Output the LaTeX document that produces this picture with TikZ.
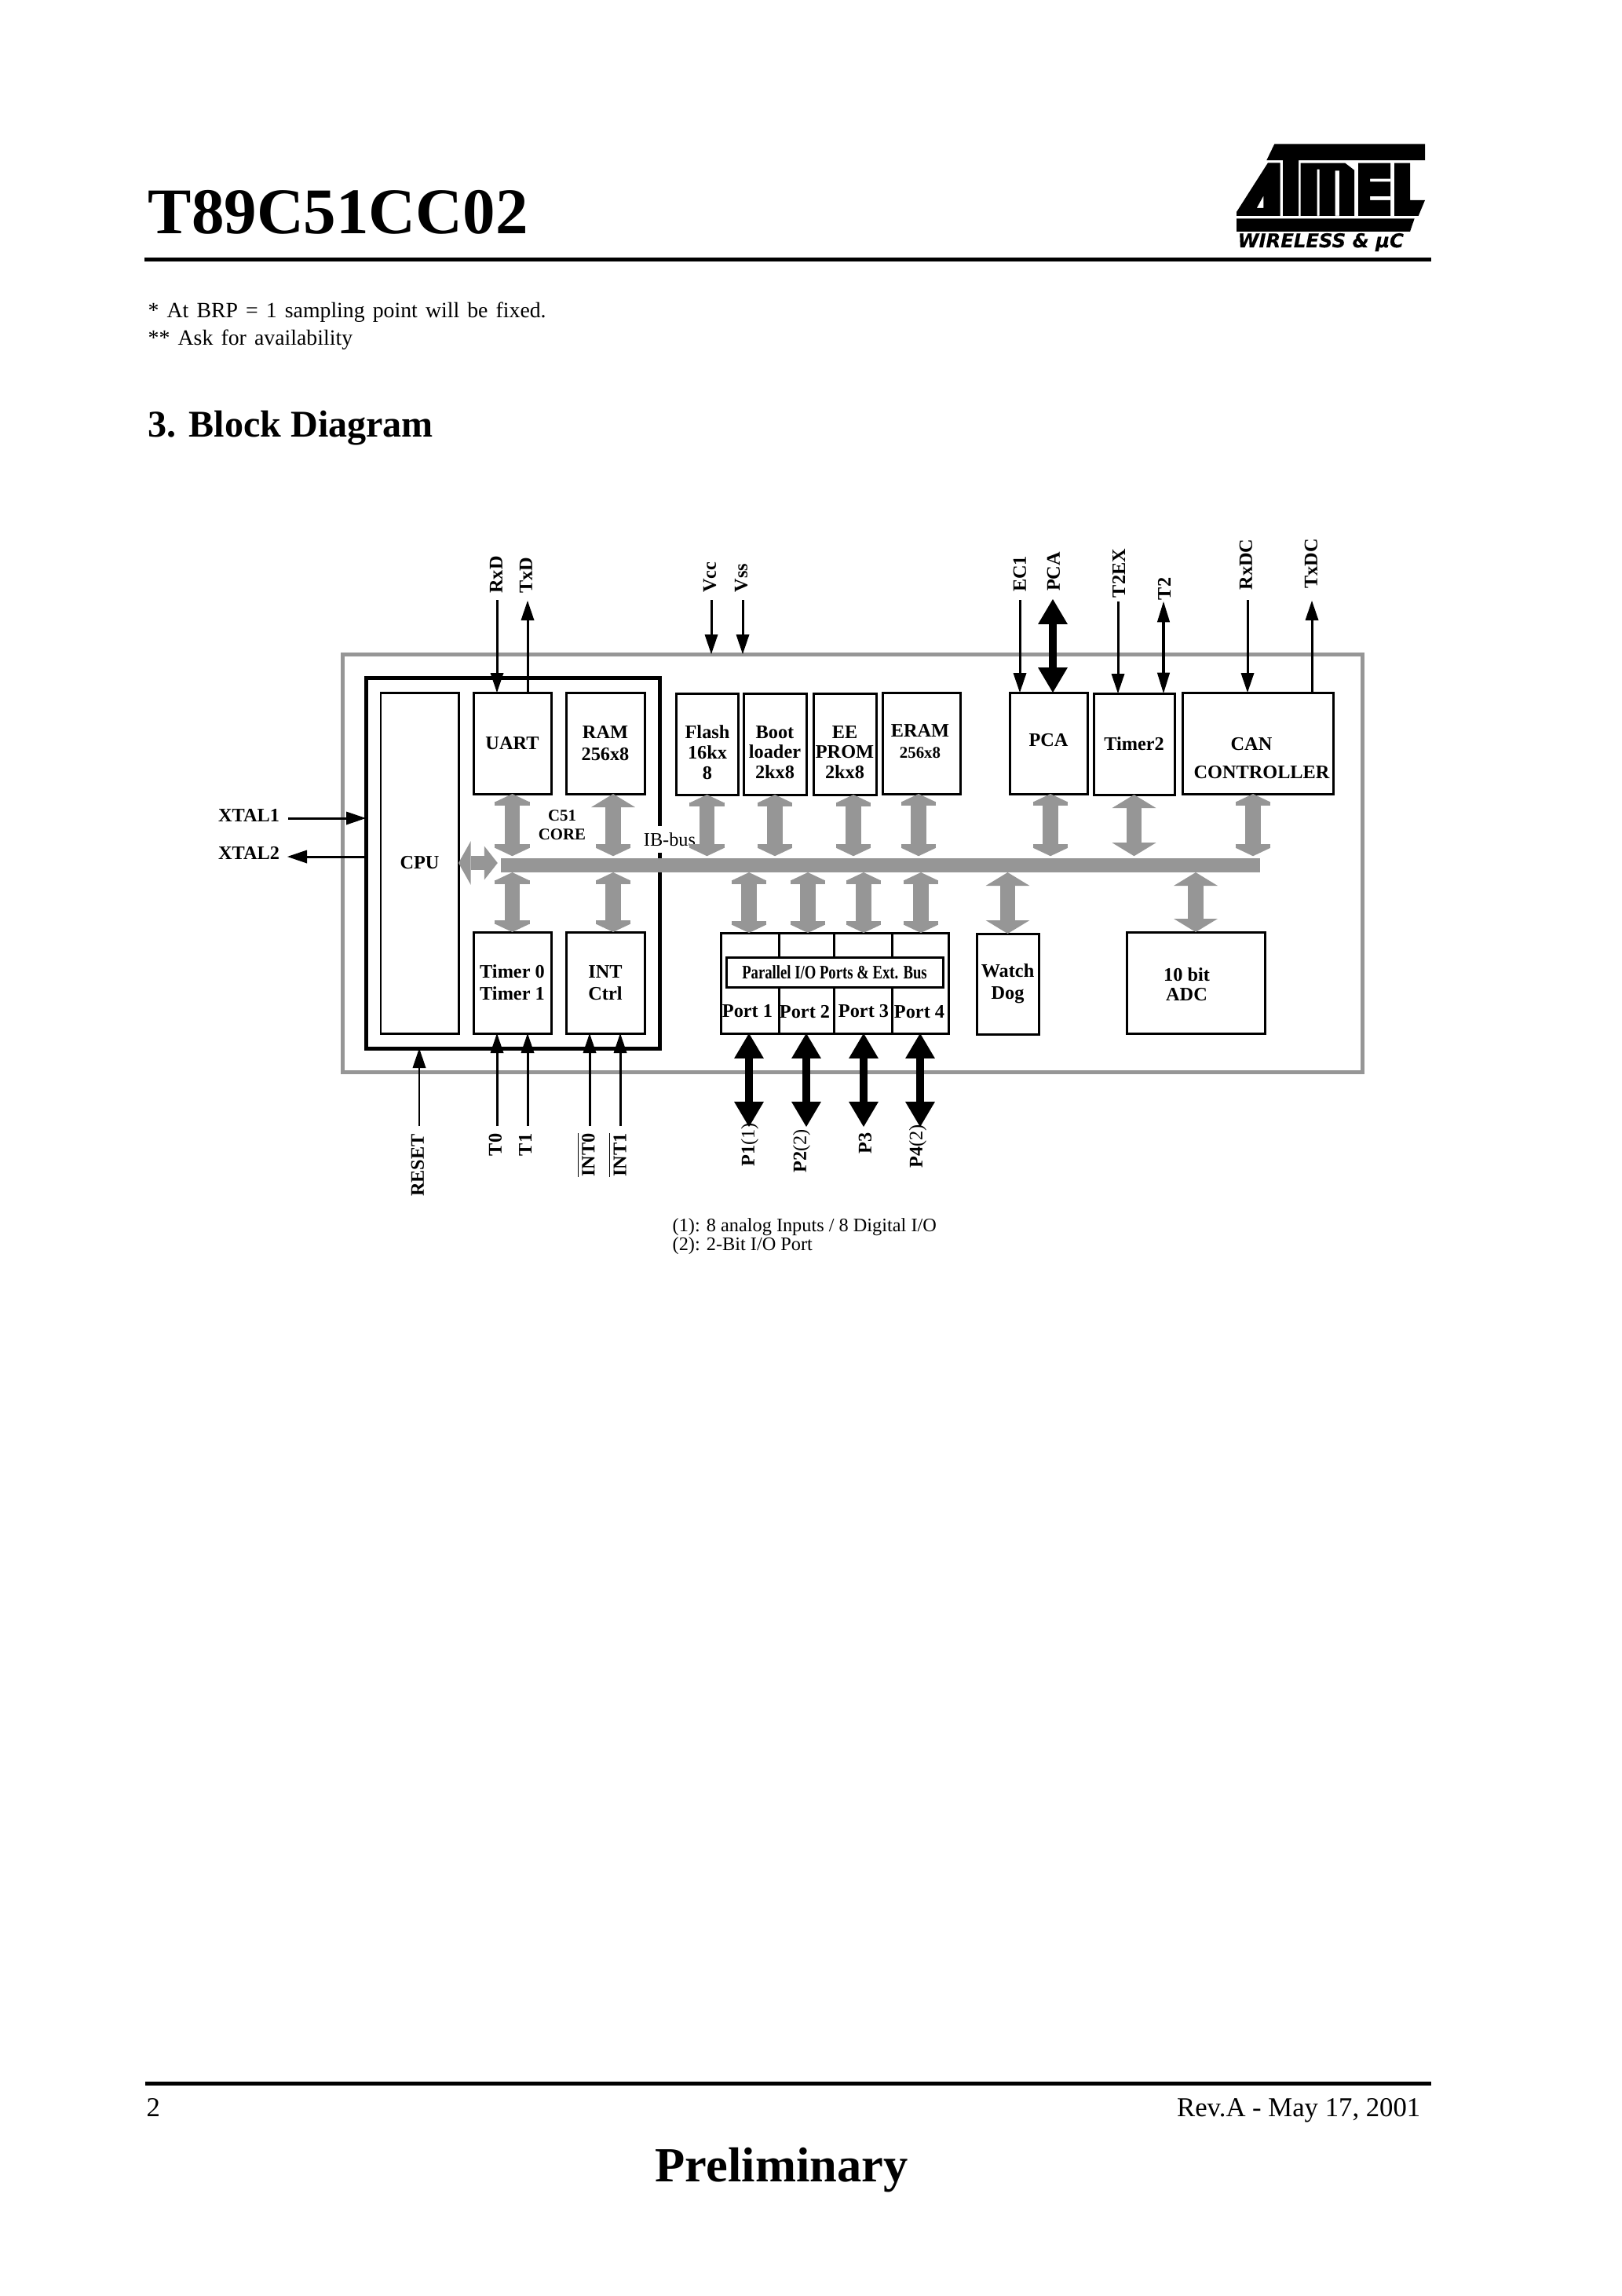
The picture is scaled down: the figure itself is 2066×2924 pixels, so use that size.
\documentclass[tikz,border=0pt]{standalone}
\usepackage{fontspec}
\setmainfont{Liberation Serif}
\newfontfamily\logofont[BoldItalicFeatures={FakeBold=0.4}]{DejaVu Sans}
\usetikzlibrary{arrows.meta}
\def\px{0.288pt}

\begin{document}
\begin{tikzpicture}[x=0.288pt,y=-0.288pt]
\tikzstyle{blk}=[draw,line width=0.86pt,inner sep=0pt,outer sep=0pt,align=center,font=\fontsize{7}{8}\selectfont\bfseries]
\tikzstyle{lbl}=[inner sep=0pt,align=center,font=\fontsize{7}{8}\selectfont\bfseries]
\tikzstyle{mem}=[lbl,font=\fontsize{7}{7.4}\selectfont\bfseries]
\tikzstyle{pin}=[lbl,rotate=90]
\tikzstyle{txt}=[inner sep=0pt,anchor=base west]
\tikzstyle{sig}=[line width=0.86pt,-{Triangle[length=7.2pt,width=4.9pt,line width=0pt]}]
\tikzstyle{sigb}=[line width=1.15pt,{Triangle[length=7.6pt,width=4.7pt,line width=0pt]}-{Triangle[length=7.6pt,width=4.7pt,line width=0pt]}]
\tikzstyle{fat}=[line width=2.9pt,{Triangle[length=9.2pt,width=10.9pt,line width=0pt]}-{Triangle[length=9.2pt,width=10.9pt,line width=0pt]}]
\tikzstyle{gbus}=[busgrey,line width=5.5pt,{Triangle[length=3pt,width=12.7pt,line width=0pt]Rectangle[length=1.3pt,width=12.7pt,line width=0pt]}-{Rectangle[length=1.3pt,width=12.7pt,line width=0pt]Triangle[length=3pt,width=12.7pt,line width=0pt]}]
\tikzstyle{gwide}=[busgrey,line width=5.5pt,{Triangle[length=4.9pt,width=16.1pt,line width=0pt]}-{Triangle[length=4.9pt,width=16.1pt,line width=0pt]}]
\tikzstyle{gmix}=[busgrey,line width=5.5pt,{Triangle[length=4.9pt,width=16.1pt,line width=0pt]}-{Rectangle[length=1.3pt,width=12.7pt,line width=0pt]Triangle[length=3pt,width=12.7pt,line width=0pt]}]
\tikzstyle{gcpu}=[busgrey,line width=5.2pt,{Triangle[length=4.5pt,width=16pt,line width=0pt]}-{Triangle[length=4.9pt,width=12.4pt,line width=0pt]}]
\definecolor{busgrey}{gray}{0.59}

\useasboundingbox (0,0) rectangle (2066,2924);
\fill[white] (0,0) rectangle (2066,2924);

\node[txt,font=\fontsize{23.9}{24}\selectfont\bfseries] (title) at (188,297) {T89C51CC02};
\fill (184,328) rectangle (1823,333);
\node[txt,font=\fontsize{8}{8}\selectfont] (noteone) at (188,404.5) {\makebox[146pt][s]{* At BRP = 1 sampling point will be fixed.}};
\node[txt,font=\fontsize{8}{8}\selectfont] (notetwo) at (188,439.5) {\makebox[75pt][s]{** Ask for availability}};
\node[txt,font=\fontsize{13.85}{14}\selectfont\bfseries] (heading) at (188,556) {3. Block Diagram};

\begin{scope}[shift={(1560,170)},x=0.096pt,y=-0.096pt]
\fill (190,40) -- (765,40) -- (765,102) -- (282,102) -- (282,315) -- (222,315) -- (222,102) -- (160,102) -- cycle;
\fill[even odd rule] (165,112) -- (212,112) -- (212,315) -- (45,315) -- (45,300) -- cycle (148,238) -- (148,285) -- (122,285) -- cycle;
\fill[even odd rule] (290,113) -- (460,113) -- (495,140) -- (495,315) -- (290,315) -- cycle (353,137) rectangle (362,315) (422,142) rectangle (438,315);
\fill[even odd rule] (510,113) rectangle (633,315) (555,173) rectangle (633,184) (555,240) rectangle (633,255);
\fill (648,113) -- (708,113) -- (708,255) -- (765,255) -- (740,315) -- (648,315) -- cycle;
\fill (45,325) -- (725,325) -- (708,375) -- (45,375) -- cycle;
\node[txt,font=\logofont\fontsize{7}{7}\selectfont\bfseries\itshape] (wireless) at (48,435) {WIRELESS \& µC};
\end{scope}

\node[draw=busgrey,line width=1.44pt,inner sep=0pt,outer sep=0pt,minimum width=1299*\px,minimum height=532*\px] (chip) at (1085.5,1099) {};
\node[draw,line width=1.44pt,inner sep=0pt,outer sep=0pt,minimum width=374*\px,minimum height=472*\px] (core) at (653,1099) {};
\node[fill=white,inner sep=0pt,minimum height=34*\px,font=\fontsize{7}{8}\selectfont] (ibbus) at (853,1069) {IB-bus};
\node[fill=busgrey,inner sep=0pt,outer sep=0pt,minimum width=967*\px,minimum height=18*\px] (bus) at (1121.5,1102) {};

\node[blk,minimum width=99*\px,minimum height=434*\px] (cpu) at (534.5,1099) {CPU};
\node[blk,minimum width=99*\px,minimum height=129*\px] (uart) at (652.5,946.5) {UART};
\node[blk,minimum width=100*\px,minimum height=129*\px] (ram) at (771,946.5) {RAM\\256x8};
\node[blk,minimum width=99*\px,minimum height=129*\px] (timer) at (652.5,1251.5) {Timer 0\\Timer 1};
\node[blk,minimum width=100*\px,minimum height=129*\px] (intc) at (771,1251.5) {INT\\Ctrl};
\node[lbl,font=\fontsize{6}{7}\selectfont\bfseries] (core51) at (716,1051) {C51\\CORE};

\node[blk,minimum width=79*\px,minimum height=129*\px] (flash) at (900.5,947.5) {};
\node[mem] (flashtxt) at (901,958) {Flash\\16kx\\8};
\node[blk,minimum width=80*\px,minimum height=129*\px] (boot) at (987,947.5) {};
\node[mem] (boottxt) at (987,958) {Boot\\loader\\2kx8};
\node[blk,minimum width=80*\px,minimum height=129*\px] (eeprom) at (1076,947.5) {};
\node[mem] (eepromtxt) at (1076,958) {EE\\PROM\\2kx8};
\node[blk,minimum width=99*\px,minimum height=129*\px] (eram) at (1173.5,946.5) {};
\node[lbl] (eramtxt) at (1172,930) {ERAM};
\node[lbl,font=\fontsize{6}{7}\selectfont\bfseries] (eramsize) at (1172,959) {256x8};
\node[blk,minimum width=99*\px,minimum height=129*\px] (pca) at (1335.5,946.5) {};
\node[lbl] (pcatxt) at (1335.5,943) {PCA};
\node[blk,minimum width=103*\px,minimum height=129*\px] (timertwo) at (1444.5,947.5) {Timer2};
\node[blk,minimum width=192*\px,minimum height=129*\px] (can) at (1602,946.5) {};
\node[lbl] (cantxt) at (1594,948) {CAN};
\node[lbl] (cantwo) at (1607,984) {CONTROLLER};

\node[blk,minimum width=74*\px,minimum height=128*\px] (port1) at (955,1252) {};
\node[blk,minimum width=70*\px,minimum height=128*\px] (port2) at (1027,1252) {};
\node[blk,minimum width=74*\px,minimum height=128*\px] (port3) at (1099,1252) {};
\node[blk,minimum width=72*\px,minimum height=128*\px] (port4) at (1172,1252) {};
\node[lbl] (port1txt) at (952,1288) {Port 1};
\node[lbl] (port2txt) at (1025,1289) {Port 2};
\node[lbl] (port3txt) at (1100,1288) {Port 3};
\node[lbl] (port4txt) at (1171,1289) {Port 4};
\node[blk,fill=white,minimum width=276*\px,minimum height=38*\px] (parallel) at (1063,1238) {\scalebox{0.77}[1]{Parallel I/O Ports \& Ext. Bus}};
\node[blk,minimum width=79*\px,minimum height=128*\px] (watch) at (1283.5,1253) {Watch\\Dog};
\node[blk,minimum width=176*\px,minimum height=129*\px] (adc) at (1523,1251.5) {};
\node[lbl,font=\fontsize{7}{7.2}\selectfont\bfseries] (adctxt) at (1511.5,1253.5) {10 bit\\ADC};

% taps on the bus
\coordinate (ramtap) at (781,1100);
\coordinate (eetap) at (1087,1100);
\coordinate (eramtap) at (1170,1100);
\coordinate (pcatap) at (1338,1100);
\coordinate (cantap) at (1596,1100);
\coordinate (p1tap) at (954,1100);
\coordinate (p2tap) at (1029,1100);
\coordinate (p3tap) at (1100,1100);
\coordinate (p4tap) at (1173,1100);
\draw[gbus,shorten >=0.8pt] (uart.south) -- (uart.south |- bus.north);
\draw[gmix,shorten >=0.8pt] (ramtap |- ram.south) -- (ramtap |- bus.north);
\draw[gbus,shorten >=0.8pt] (flash.south) -- (flash.south |- bus.north);
\draw[gbus,shorten >=0.8pt] (boot.south) -- (boot.south |- bus.north);
\draw[gbus,shorten >=0.8pt] (eetap |- eeprom.south) -- (eetap |- bus.north);
\draw[gbus,shorten >=0.8pt] (eramtap |- eram.south) -- (eramtap |- bus.north);
\draw[gbus,shorten >=0.8pt] (pcatap |- pca.south) -- (pcatap |- bus.north);
\draw[gwide,shorten >=0.8pt] (timertwo.south) -- (timertwo.south |- bus.north);
\draw[gbus,shorten >=0.8pt] (cantap |- can.south) -- (cantap |- bus.north);
\draw[gbus] (timer.north) -- (timer.north |- bus.south);
\draw[gbus] (ramtap |- intc.north) -- (ramtap |- bus.south);
\draw[gbus] (p1tap |- port1.north) -- (p1tap |- bus.south);
\draw[gbus] (p2tap |- port2.north) -- (p2tap |- bus.south);
\draw[gbus] (p3tap |- port3.north) -- (p3tap |- bus.south);
\draw[gbus] (p4tap |- port4.north) -- (p4tap |- bus.south);
\draw[gwide] (watch.north) -- (watch.north |- bus.south);
\draw[gwide] (adc.north) -- (adc.north |- bus.south);
\draw[gcpu,shorten >=1.2pt] (cpu.east) -- (cpu.east -| bus.west);

\coordinate (rxdpin) at (633,764);
\coordinate (txdpin) at (672,765);
\coordinate (vccpin) at (906,764);
\coordinate (vsspin) at (946,764);
\coordinate (ecpin) at (1299,764);
\coordinate (pcapin) at (1341,763);
\coordinate (texpin) at (1424,766);
\coordinate (ttwopin) at (1482,766);
\coordinate (rxcpin) at (1589,764);
\coordinate (txcpin) at (1671,765);
\coordinate (xtalin) at (367,1042);
\coordinate (xtalout) at (366,1091);
\coordinate (rstpin) at (534,1434);
\coordinate (tzpin) at (633,1434);
\coordinate (topin) at (672,1434);
\coordinate (izpin) at (751,1434);
\coordinate (iopin) at (790,1434);
\coordinate (ponepin) at (954,1435);
\coordinate (ptwopin) at (1027,1435);
\coordinate (pthreepin) at (1100,1435);
\coordinate (pfourpin) at (1172,1435);

\draw[sig] (rxdpin) -- (rxdpin |- uart.north);
\draw[sig] (txdpin |- uart.north) -- (txdpin);
\draw[sig] (vccpin) -- (vccpin |- chip.north);
\draw[sig] (vsspin) -- (vsspin |- chip.north);
\draw[sig] (ecpin) -- (ecpin |- pca.north);
\draw[fat] (pcapin) -- (pcapin |- pca.north);
\draw[sig] (texpin) -- (texpin |- timertwo.north);
\draw[sigb] (ttwopin) -- (ttwopin |- timertwo.north);
\draw[sig] (rxcpin) -- (rxcpin |- can.north);
\draw[sig] (txcpin |- can.north) -- (txcpin);
\draw[sig] (xtalin) -- (xtalin -| core.west);
\draw[sig] (xtalout -| core.west) -- (xtalout);
\draw[sig] (rstpin) -- (rstpin |- core.south);
\draw[sig] (tzpin) -- (tzpin |- timer.south);
\draw[sig] (topin) -- (topin |- timer.south);
\draw[sig] (izpin) -- (izpin |- intc.south);
\draw[sig] (iopin) -- (iopin |- intc.south);
\draw[fat] (ponepin) -- (ponepin |- port1.south);
\draw[fat] (ptwopin) -- (ptwopin |- port2.south);
\draw[fat] (pthreepin) -- (pthreepin |- port3.south);
\draw[fat] (pfourpin) -- (pfourpin |- port4.south);

\node[lbl] (xtalone) at (317,1038) {XTAL1};
\node[lbl] (xtaltwo) at (317,1086) {XTAL2};
\node[pin] (rxd) at (632,732) {RxD};
\node[pin] (txd) at (670,733) {TxD};
\node[pin] (vcc) at (904,735) {Vcc};
\node[pin] (vss) at (944,736) {Vss};
\node[pin] (econe) at (1299,731) {EC1};
\node[pin] (pcalbl) at (1342,728) {PCA};
\node[pin] (ttwoex) at (1425,730) {T2EX};
\node[pin] (ttwo) at (1483,750) {T2};
\node[pin] (rxdc) at (1587,719) {RxDC};
\node[pin] (txdc) at (1670,718) {TxDC};
\node[pin] (reset) at (532,1484) {RESET};
\node[pin] (tzero) at (631,1458) {T0};
\node[pin] (tone) at (669,1458) {T1};
\node[pin] (intzero) at (746,1471) {$\overline{\mbox{INT0}}$};
\node[pin] (intone) at (786,1471) {$\overline{\mbox{INT1}}$};
\node[pin] (pone) at (955,1458) {P1{\mdseries(1)}};
\node[pin] (ptwo) at (1021,1466) {P2{\mdseries(2)}};
\node[pin] (pthree) at (1102,1456) {P3};
\node[pin] (pfour) at (1169,1460) {P4{\mdseries(2)}};
\node[txt,font=\fontsize{7}{7}\selectfont] (footone) at (856,1568) {(1): 8 analog Inputs / 8 Digital I/O};
\node[txt,font=\fontsize{7}{7}\selectfont] (foottwo) at (856,1592) {(2): 2-Bit I/O Port};

\fill (185,2651) rectangle (1823,2656);
\node[txt,font=\fontsize{10}{10}\selectfont] (pagenum) at (186,2695) {2};
\node[txt,anchor=base east,font=\fontsize{10}{10}\selectfont] (rev) at (1810,2695) {Rev.A - May 17, 2001};
\node[txt,font=\fontsize{18}{18}\selectfont\bfseries] (prelim) at (834,2778) {Preliminary};
\end{tikzpicture}
\end{document}
